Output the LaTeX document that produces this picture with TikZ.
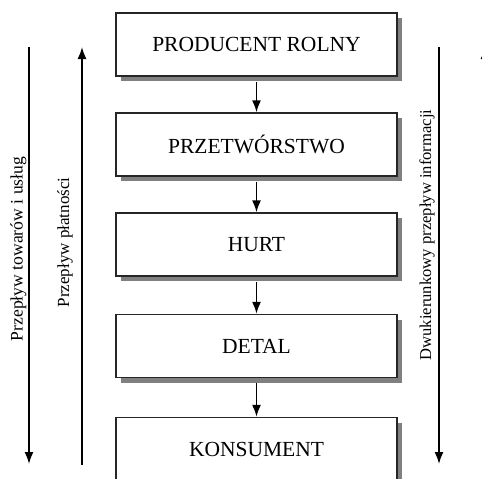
\documentclass[tikz,border=0pt]{standalone}
\usepackage{fontspec}
\setmainfont{Liberation Serif}
\usetikzlibrary{shadows,arrows.meta}
\begin{document}
\begin{tikzpicture}[x=1pt,y=-1pt,
  stagebox/.style={draw=black!85,line width=1.4pt,fill=white,
    minimum width=281pt,minimum height=63pt,inner sep=0pt,
    font=\fontsize{21.5}{25}\selectfont,
    drop shadow={shadow xshift=5pt,shadow yshift=-5pt,fill=black!50,opacity=1}},
  flow/.style={line width=1.6pt,-{Latex[length=12pt,width=9pt]}},
  sidetext/.style={rotate=90,inner sep=0pt}]
  \useasboundingbox (0,0) rectangle (482,479);
  \clip (0,0) rectangle (482,479);

  % chain of stages
  \node[stagebox] (p1) at (256.5,44.5)  {PRODUCENT ROLNY};
  \node[stagebox] (p2) at (256.5,144.5) {PRZETWÓRSTWO};
  \node[stagebox] (p3) at (256.5,244.5) {HURT};
  \node[stagebox] (p4) at (256.5,346)   {DETAL};
  \node[stagebox] (p5) at (256.5,449)   {KONSUMENT};

  \foreach \a/\b in {p1/p2,p2/p3,p3/p4,p4/p5}
    \draw[flow,shorten <=5pt] (\a) -- (\b);

  % side flows
  \coordinate (g1) at (29,47);   \coordinate (g2) at (29,464);
  \coordinate (m1) at (82,465);  \coordinate (m2) at (82,47);
  \coordinate (i1) at (439,47);  \coordinate (i2) at (439,464);
  \coordinate (j1) at (485,465); \coordinate (j2) at (485,47);
  \draw[flow] (g1) -- (g2);
  \draw[flow] (m1) -- (m2);
  \draw[flow] (i1) -- (i2);
  \draw[flow] (j1) -- (j2);

  \node[sidetext,font=\fontsize{17.6}{21}\selectfont] (tg) at (18.5,249) {Przepływ towarów i usług};
  \node[sidetext,font=\fontsize{17}{20}\selectfont] (tm) at (65,242.5) {Przepływ płatności};
  \node[sidetext,font=\fontsize{16.6}{20}\selectfont] (ti) at (427,235) {Dwukierunkowy przepływ informacji};
\end{tikzpicture}
\end{document}
